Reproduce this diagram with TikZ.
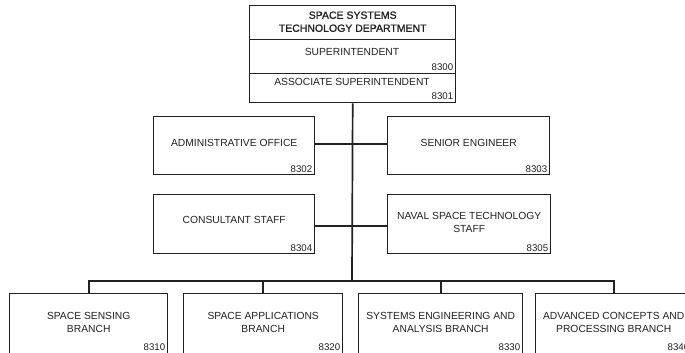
\documentclass[tikz,border=0pt]{standalone}
\usepackage{fontspec}
\setmainfont{Liberation Sans}
\newfontfamily\titlefont[FakeBold=1.2]{Liberation Sans}
\definecolor{ink}{gray}{0.13}
\tikzset{
  box/.style={draw=ink, line width=1.4pt, anchor=north west, inner sep=0pt},
  lbl/.style={inner sep=0pt, text=ink, align=center, font=\fontsize{10.3}{13.5}\selectfont},
  num/.style={anchor=south east, inner sep=0pt, text=ink, font=\fontsize{9.7}{11}\selectfont},
  wire/.style={draw=ink, line width=1.7pt},
}
\begin{document}
\begin{tikzpicture}[x=1pt,y=-1pt]
\useasboundingbox (0,0) rectangle (685,353);
% top box
\node[box, minimum width=206pt, minimum height=34pt] (dept) at (249,5) {};
\node[lbl, font=\titlefont\fontsize{10.5}{13}\selectfont] (deptt) at ([yshift=1pt]dept.center) {SPACE SYSTEMS\\TECHNOLOGY DEPARTMENT};
\node[box, minimum width=206pt, minimum height=34pt] (sup) at (249,39) {};
\node[lbl, anchor=base] (supt) at (352,55.5) {SUPERINTENDENT};
\node[num] (supn) at ([xshift=-3pt,yshift=3.5pt]sup.south east) {8300};
\node[box, minimum width=206pt, minimum height=29pt] (asc) at (249,73) {};
\node[lbl, anchor=base] (asct) at (352,85.5) {ASSOCIATE SUPERINTENDENT};
\node[num] (ascn) at ([xshift=-3pt,yshift=3.5pt]asc.south east) {8301};
% staff boxes
\node[box, minimum width=161pt, minimum height=58pt] (adm) at (153,116) {};
\node[lbl] (admt) at ([yshift=3pt]adm.center) {ADMINISTRATIVE OFFICE};
\node[num] (admn) at ([xshift=-3pt,yshift=3pt]adm.south east) {8302};
\node[box, minimum width=162pt, minimum height=58pt] (sen) at (387,116) {};
\node[lbl] (sent) at ([yshift=3pt]sen.center) {SENIOR ENGINEER};
\node[num] (senn) at ([xshift=-3pt,yshift=3pt]sen.south east) {8303};
\node[box, minimum width=161pt, minimum height=59pt] (con) at (153,194) {};
\node[lbl] (cont) at ([yshift=4pt]con.center) {CONSULTANT STAFF};
\node[num] (conn) at ([xshift=-3pt,yshift=3pt]con.south east) {8304};
\node[box, minimum width=163pt, minimum height=59pt] (nav) at (387,194) {};
\node[lbl] (navt) at ([yshift=1.5pt]nav.center) {NAVAL SPACE TECHNOLOGY\\STAFF};
\node[num] (navn) at ([xshift=-3pt,yshift=3pt]nav.south east) {8305};
% branches
\node[box, minimum width=158pt, minimum height=59.5pt] (b1) at (9,293) {};
\node[lbl] (b1t) at ([yshift=1pt]b1.center) {SPACE SENSING\\BRANCH};
\node[num] (b1n) at ([xshift=-3pt,yshift=3pt]b1.south east) {8310};
\node[box, minimum width=159pt, minimum height=59.5pt] (b2) at (183,293) {};
\node[lbl] (b2t) at ([yshift=1pt]b2.center) {SPACE APPLICATIONS\\BRANCH};
\node[num] (b2n) at ([xshift=-3pt,yshift=3pt]b2.south east) {8320};
\node[box, minimum width=164pt, minimum height=59.5pt] (b3) at (358,293) {};
\node[lbl] (b3t) at ([yshift=1pt]b3.center) {SYSTEMS ENGINEERING AND\\ANALYSIS BRANCH};
\node[num] (b3n) at ([xshift=-3pt,yshift=3pt]b3.south east) {8330};
\node[box, minimum width=156pt, minimum height=59.5pt] (b4) at (535,293) {};
\node[lbl] (b4t) at ([yshift=1pt]b4.center) {ADVANCED CONCEPTS AND\\PROCESSING BRANCH};
\node[num] (b4n) at ([xshift=-3pt,yshift=3pt]b4.south east) {8340};
% connectors
\coordinate (bus) at (352,281);
\draw[wire] (asc.south) -- (bus);
\draw[wire] ([yshift=2pt]adm.east) -- ([yshift=2pt]sen.west);
\draw[wire] ([yshift=-1.5pt]con.east) -- ([yshift=-1.5pt]nav.west);
\draw[wire] (b1.north) |- (bus) -| (b4.north);
\draw[wire] (b2.north) -- (b2.north |- bus);
\draw[wire] (b3.north) -- (b3.north |- bus);
\end{tikzpicture}
\end{document}
